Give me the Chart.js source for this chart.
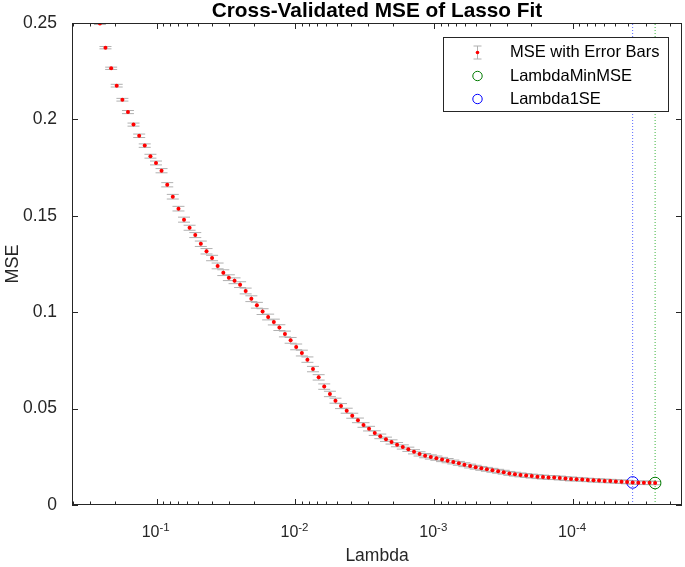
<!DOCTYPE html>
<html>
<head>
<meta charset="utf-8">
<script src="https://cdn.jsdelivr.net/npm/chart.js@4.4.0/dist/chart.umd.min.js"></script>
<style>
  body { margin: 0; background: #fff; }
  #wrap { width: 685px; height: 567px; }
</style>
</head>
<body>
<div id="wrap"><canvas id="lasso-chart" width="685" height="567"></canvas></div>
<script>
// log10 of lambda for each fit on the path (largest lambda first)
const log10Lambda = [
  -0.591, -0.631, -0.672, -0.712, -0.753, -0.793, -0.833, -0.874, -0.914, -0.955,
  -0.995, -1.035, -1.076, -1.116, -1.157, -1.197, -1.237, -1.278, -1.318, -1.359,
  -1.399, -1.439, -1.480, -1.520, -1.561, -1.601, -1.641, -1.682, -1.722, -1.763,
  -1.803, -1.844, -1.884, -1.924, -1.965, -2.005, -2.046, -2.086, -2.126, -2.167,
  -2.207, -2.248, -2.288, -2.328, -2.369, -2.409, -2.450, -2.490, -2.530, -2.571,
  -2.611, -2.652, -2.692, -2.732, -2.773, -2.813, -2.854, -2.894, -2.934, -2.975,
  -3.015, -3.056, -3.096, -3.137, -3.177, -3.217, -3.258, -3.298, -3.339, -3.379,
  -3.419, -3.460, -3.500, -3.541, -3.581, -3.621, -3.662, -3.702, -3.743, -3.783,
  -3.823, -3.864, -3.904, -3.945, -3.985, -4.025, -4.066, -4.106, -4.147, -4.187,
  -4.227, -4.268, -4.308, -4.349, -4.389, -4.429, -4.470, -4.510, -4.551, -4.591
];
const mse = [
  0.2497, 0.2372, 0.2265, 0.2175, 0.2102, 0.2038, 0.1973, 0.1915, 0.1864, 0.1809,
  0.1774, 0.1734, 0.1661, 0.1599, 0.1537, 0.1480, 0.1438, 0.1400, 0.1355, 0.1316,
  0.1281, 0.1240, 0.1205, 0.1179, 0.1163, 0.1143, 0.1110, 0.1070, 0.1036, 0.1003,
  0.0975, 0.0949, 0.0920, 0.0887, 0.0854, 0.0820, 0.0788, 0.0754, 0.0705, 0.0662,
  0.0614, 0.0576, 0.0541, 0.0513, 0.0489, 0.0463, 0.0439, 0.0415, 0.0396, 0.0373,
  0.0356, 0.0341, 0.0327, 0.0313, 0.0301, 0.0289, 0.0276, 0.0265, 0.0256, 0.0249,
  0.0243, 0.0236, 0.0230, 0.0223, 0.0216, 0.0209, 0.0202, 0.0196, 0.0190, 0.0185,
  0.0180, 0.0175, 0.0170, 0.0164, 0.0160, 0.0156, 0.0153, 0.0150, 0.0147, 0.0145,
  0.0143, 0.0142, 0.0140, 0.0137, 0.0135, 0.0134, 0.0132, 0.0130, 0.0128, 0.0127,
  0.0125, 0.0124, 0.0122, 0.0121, 0.0119, 0.0117, 0.0116, 0.0115, 0.0115, 0.0114
];
const mseSE = [
  0.0005, 0.0006, 0.0006, 0.0007, 0.0007, 0.0008, 0.0008, 0.0009, 0.0009, 0.0010,
  0.0010, 0.0011, 0.0011, 0.0012, 0.0012, 0.0013, 0.0013, 0.0013, 0.0014, 0.0014,
  0.0014, 0.0015, 0.0015, 0.0015, 0.0015, 0.0015, 0.0015, 0.0015, 0.0015, 0.0015,
  0.0015, 0.0015, 0.0015, 0.0015, 0.0015, 0.0015, 0.0015, 0.0014, 0.0014, 0.0014,
  0.0014, 0.0014, 0.0013, 0.0013, 0.0013, 0.0013, 0.0012, 0.0012, 0.0012, 0.0012,
  0.0012, 0.0011, 0.0011, 0.0011, 0.0011, 0.0011, 0.0011, 0.0011, 0.0011, 0.0011,
  0.0011, 0.0011, 0.0011, 0.0010, 0.0010, 0.0010, 0.0010, 0.0010, 0.0010, 0.0010,
  0.0010, 0.0010, 0.0010, 0.0010, 0.0010, 0.0010, 0.0010, 0.0010, 0.0010, 0.0010,
  0.0010, 0.0010, 0.0010, 0.0010, 0.0010, 0.0009, 0.0009, 0.0009, 0.0009, 0.0009,
  0.0009, 0.0009, 0.0009, 0.0009, 0.0009, 0.0009, 0.0009, 0.0009, 0.0009, 0.0009
];
const idxMinMSE = 99;
const idx1SE = 95;

const xTickValues = [1e-1, 1e-2, 1e-3, 1e-4];
const xTickBase = ["10", "10", "10", "10"];
const xTickExp = ["-1", "-2", "-3", "-4"];
const yTickValues = [0, 0.05, 0.1, 0.15, 0.2, 0.25];
const yTickLabels = ["0", "0.05", "0.1", "0.15", "0.2", "0.25"];

const FONT = "'Liberation Sans', Arial, Helvetica, sans-serif";
const AXIS_COLOR = "#262626";
Chart.defaults.font.family = FONT;
Chart.defaults.color = AXIS_COLOR;

const lambda = log10Lambda.map((v) => Math.pow(10, v));
const pts = lambda.map((l, i) => ({ x: l, y: mse[i] }));
const lamMin = lambda[idxMinMSE];
const lam1SE = lambda[idx1SE];

// gray error bars behind the red markers
const errorBars = {
  id: "errorBars",
  beforeDatasetsDraw(chart) {
    const { ctx, chartArea: a, scales: { x, y } } = chart;
    ctx.save();
    ctx.beginPath();
    ctx.rect(a.left, a.top, a.right - a.left, a.bottom - a.top);
    ctx.clip();
    ctx.strokeStyle = "#b0b0b0";
    ctx.lineWidth = 1;
    ctx.beginPath();
    lambda.forEach((l, i) => {
      const px = x.getPixelForValue(l);
      const hi = y.getPixelForValue(mse[i] + mseSE[i]);
      const lo = y.getPixelForValue(mse[i] - mseSE[i]);
      ctx.moveTo(px, hi);
      ctx.lineTo(px, lo);
      ctx.moveTo(px - 6, hi);
      ctx.lineTo(px + 6, hi);
      ctx.moveTo(px - 6, lo);
      ctx.lineTo(px + 6, lo);
    });
    ctx.stroke();
    ctx.restore();
  },
};

// matlab style box with inward ticks, plus the 10^n labels
const axesBox = {
  id: "axesBox",
  afterDraw(chart) {
    const { ctx, chartArea: a, scales: { x, y } } = chart;
    ctx.save();
    ctx.strokeStyle = AXIS_COLOR;
    ctx.lineWidth = 1;
    ctx.beginPath();
    for (let e = -5; e <= -1; e++) {
      for (let m = 1; m <= 9; m++) {
        const v = m * Math.pow(10, e);
        if (v < x.min || v > x.max) continue;
        const px = Math.round(x.getPixelForValue(v)) + 0.5;
        const len = m === 1 ? 6 : 3.5;
        ctx.moveTo(px, a.bottom);
        ctx.lineTo(px, a.bottom - len);
        ctx.moveTo(px, a.top);
        ctx.lineTo(px, a.top + len);
      }
    }
    yTickValues.forEach((v) => {
      const py = Math.round(y.getPixelForValue(v)) + 0.5;
      ctx.moveTo(a.left, py);
      ctx.lineTo(a.left + 6, py);
      ctx.moveTo(a.right, py);
      ctx.lineTo(a.right - 6, py);
    });
    ctx.stroke();
    ctx.strokeRect(a.left + 0.5, a.top + 0.5, a.right - a.left - 1, a.bottom - a.top - 1);

    // x tick labels with raised exponent
    ctx.fillStyle = AXIS_COLOR;
    ctx.textBaseline = "alphabetic";
    ctx.textAlign = "left";
    xTickValues.forEach((v, i) => {
      const px = x.getPixelForValue(v);
      ctx.font = "16px " + FONT;
      const bw = ctx.measureText(xTickBase[i]).width;
      ctx.font = "11.5px " + FONT;
      const ew = ctx.measureText(xTickExp[i]).width;
      const sx = px - (bw + ew) / 2 - 1;
      ctx.font = "16px " + FONT;
      ctx.fillText(xTickBase[i], sx, a.bottom + 32);
      ctx.font = "11.5px " + FONT;
      ctx.fillText(xTickExp[i], sx + bw, a.bottom + 26);
    });
    ctx.restore();
  },
};

// legend box in the top right corner
const legendBox = {
  id: "legendBox",
  afterDraw(chart) {
    const { ctx } = chart;
    const ds = chart.data.datasets;
    const bx = 443, by = 37, bw = 225, bh = 74;
    const ix = 477, tx = 510;
    const rows = [52.5, 76, 99];
    ctx.save();
    ctx.fillStyle = "#ffffff";
    ctx.fillRect(bx, by, bw, bh);
    ctx.strokeStyle = AXIS_COLOR;
    ctx.lineWidth = 1;
    ctx.strokeRect(bx + 0.5, by + 0.5, bw, bh);

    // error bar icon
    ctx.strokeStyle = "#b0b0b0";
    ctx.beginPath();
    ctx.moveTo(ix + 0.5, rows[0] - 6.5);
    ctx.lineTo(ix + 0.5, rows[0] + 6.5);
    ctx.moveTo(ix - 3.5, rows[0] - 6.5);
    ctx.lineTo(ix + 4.5, rows[0] - 6.5);
    ctx.moveTo(ix - 3.5, rows[0] + 6.5);
    ctx.lineTo(ix + 4.5, rows[0] + 6.5);
    ctx.stroke();
    ctx.fillStyle = "#ff0000";
    ctx.beginPath();
    ctx.arc(ix + 0.5, rows[0], 1.8, 0, Math.PI * 2);
    ctx.fill();

    ctx.lineWidth = 1;
    ctx.strokeStyle = ds[1].pointBorderColor;
    ctx.beginPath();
    ctx.arc(ix + 0.5, rows[1], 4.7, 0, Math.PI * 2);
    ctx.stroke();
    ctx.strokeStyle = ds[2].pointBorderColor;
    ctx.beginPath();
    ctx.arc(ix + 0.5, rows[2], 4.7, 0, Math.PI * 2);
    ctx.stroke();

    ctx.fillStyle = "#000000";
    ctx.font = "16.5px " + FONT;
    ctx.textBaseline = "middle";
    ctx.textAlign = "left";
    for (let i = 0; i < 3; i++) ctx.fillText(ds[i].label, tx, rows[i]);
    ctx.restore();
  },
};

const ctx = document.getElementById("lasso-chart").getContext("2d");
new Chart(ctx, {
  type: "scatter",
  data: {
    datasets: [
      {
        label: "MSE with Error Bars",
        data: pts,
        pointRadius: 2,
        pointBackgroundColor: "#ff0000",
        pointBorderWidth: 0,
        showLine: false,
      },
      {
        label: "LambdaMinMSE",
        data: [{ x: lamMin, y: mse[idxMinMSE] }],
        pointRadius: 5.8,
        pointBackgroundColor: "rgba(0,0,0,0)",
        pointBorderColor: "#007a00",
        pointBorderWidth: 1,
      },
      {
        label: "Lambda1SE",
        data: [{ x: lam1SE, y: mse[idx1SE] }],
        pointRadius: 5.8,
        pointBackgroundColor: "rgba(0,0,0,0)",
        pointBorderColor: "#0000ff",
        pointBorderWidth: 1,
      },
      {
        type: "line",
        label: "min line",
        data: [{ x: lamMin, y: 0 }, { x: lamMin, y: 0.25 }],
        borderColor: "#3cb43c",
        borderWidth: 1,
        borderDash: [1, 2],
        pointRadius: 0,
      },
      {
        type: "line",
        label: "1se line",
        data: [{ x: lam1SE, y: 0 }, { x: lam1SE, y: 0.25 }],
        borderColor: "#5a6aff",
        borderWidth: 1,
        borderDash: [1, 2],
        pointRadius: 0,
      },
    ],
  },
  options: {
    responsive: false,
    animation: false,
    layout: { autoPadding: false, padding: { left: 0, right: 3, top: 0, bottom: 0 } },
    plugins: {
      legend: { display: false },
      tooltip: { enabled: false },
      title: {
        display: true,
        fullSize: false,
        text: "Cross-Validated MSE of Lasso Fit",
        color: "#000000",
        font: { size: 20.8, weight: "bold", lineHeight: "20px" },
        padding: { top: 1, bottom: 2 },
      },
    },
    scales: {
      x: {
        type: "logarithmic",
        reverse: true,
        min: 1.642e-5,
        max: 0.4075,
        afterBuildTicks: (scale) => {
          scale.ticks = xTickValues.map((v) => ({ value: v }));
        },
        afterFit: (scale) => {
          scale.height = 62;
          scale.paddingLeft = 0;
          scale.paddingRight = 0;
        },
        grid: { display: false, drawTicks: false },
        border: { display: false },
        ticks: { display: false },
        title: {
          display: true,
          text: "Lambda",
          font: { size: 17.5 },
          padding: { top: 0, bottom: 0 },
        },
      },
      y: {
        type: "linear",
        min: 0,
        max: 0.25,
        afterBuildTicks: (scale) => {
          scale.ticks = yTickValues.map((v) => ({ value: v }));
        },
        afterFit: (scale) => {
          scale.width = 72;
          scale.paddingTop = 0;
          scale.paddingBottom = 0;
        },
        grid: { display: false, drawTicks: false },
        border: { display: false },
        ticks: {
          padding: 15,
          font: { size: 17.5 },
          callback: (value, index) => yTickLabels[index],
        },
        title: {
          display: true,
          text: "MSE",
          font: { size: 18 },
          padding: { top: 2, bottom: 0 },
        },
      },
    },
  },
  plugins: [errorBars, axesBox, legendBox],
});
</script>
</body>
</html>
